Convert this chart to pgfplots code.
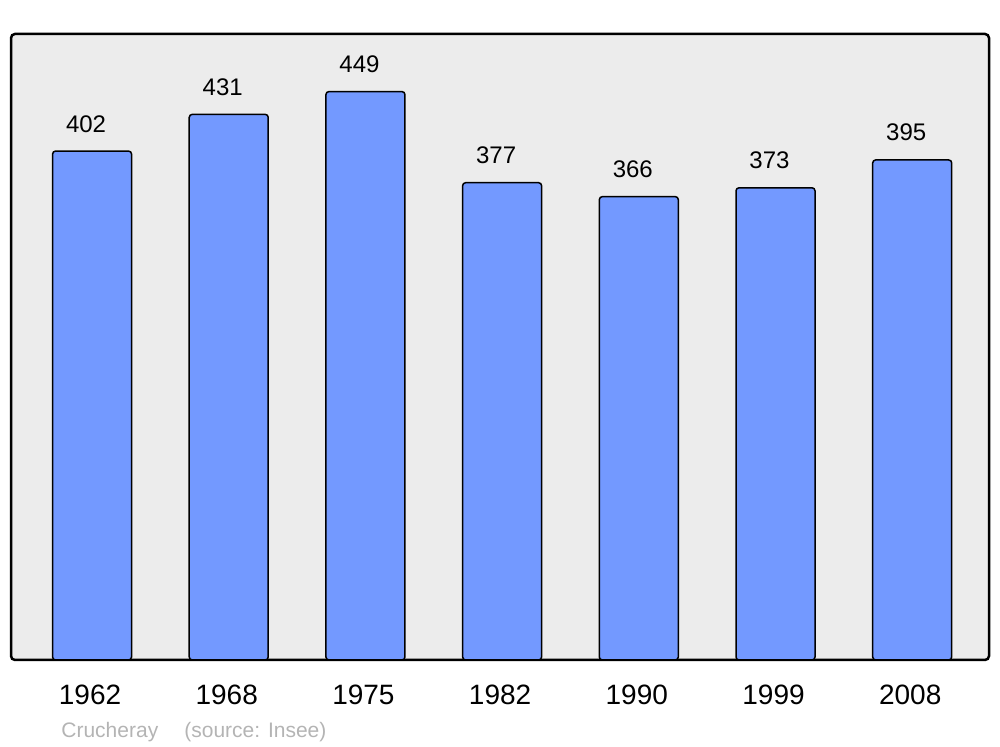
\documentclass[border=0pt]{standalone}
\usepackage{pgfplots}
\pgfplotsset{compat=1.18}
\usepackage{fontspec}
\setmainfont{Liberation Sans}
\definecolor{barblue}{RGB}{115,153,255}
\definecolor{bggray}{RGB}{236,236,236}
\definecolor{srcgray}{RGB}{180,180,180}
\begin{document}
\begin{tikzpicture}
% 1px of the reference = 0.5pt
\path[use as bounding box] (0,0) rectangle (500pt,373.5pt);
\begin{axis}[at={(5.5pt,43.5pt)},anchor=south west,
  scale only axis,width=489pt,height=313pt,
  xmin=-0.593,xmax=6.562,ymin=0,ymax=494.5,
  ybar,bar width=39.5pt,
  axis line style={draw=none},
  axis background/.style={fill=bggray,draw=black,line width=1.25pt,rounded corners=2pt},
  hide y axis,
  xtick=data,xticklabels={1962,1968,1975,1982,1990,1999,2008},
  major tick length=0pt,
  xticklabel style={font=\fontsize{14}{16}\selectfont,anchor=base,inner sep=0pt,yshift=-22.5pt,xshift=-1pt},
  /pgf/number format/assume math mode=true,
  nodes near coords,
  nodes near coords style={font=\fontsize{12}{14}\selectfont,anchor=base,inner sep=0pt,yshift=9.5pt,xshift=-3pt},
  clip=false]
\addplot[fill=barblue,draw=black,line width=0.75pt,rounded corners=1.5pt] coordinates {
  (0,402) (1,431) (2,449) (3,377) (4,366) (5,373) (6,395)};
\end{axis}
\node[anchor=base west,inner sep=0pt,text=srcgray,font=\fontsize{10.5}{12}\selectfont] at (30.5pt,4.5pt) {Crucheray};
\node[anchor=base west,inner sep=0pt,text=srcgray,font=\fontsize{10.5}{12}\selectfont] at (92pt,4.5pt) {(source: Insee)};
\end{tikzpicture}
\end{document}
